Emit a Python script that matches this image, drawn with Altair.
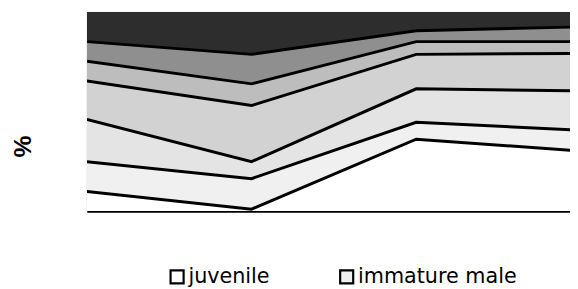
import altair as alt
import pandas as pd

# category positions (four sampling points)
periods = [0, 1, 2, 3]

# layer names, bottom to top (only the first two are readable in the legend)
groups = ["juvenile", "immature male", "class 3", "class 4", "class 5", "class 6", "class 7"]

# percentage share per layer at each point (bottom to top)
juvenile = [9.9, 1.0, 36.1, 30.2]
immature_male = [14.9, 15.3, 8.5, 10.4]
class3 = [21.2, 8.5, 16.8, 19.8]
class4 = [19.3, 28.2, 17.3, 18.8]
class5 = [9.9, 10.9, 6.4, 5.9]
class6 = [9.9, 14.8, 5.5, 7.4]
class7 = [14.9, 21.3, 9.4, 7.5]
series = [juvenile, immature_male, class3, class4, class5, class6, class7]

# grey tones standing in for the dot / hatch textures
fills = ["#ffffff", "#f0f0f0", "#e4e4e4", "#d2d2d2", "#bdbdbd", "#8f8f8f", "#2d2d2d"]

rows = []
for gi, (g, vals) in enumerate(zip(groups, series)):
    for p, v in zip(periods, vals):
        rows.append({"period": p, "group": g, "order": gi, "value": v})
df = pd.DataFrame(rows)
df = df.sort_values(["period", "order"])
df["top"] = df.groupby("period")["value"].cumsum()

xscale = alt.Scale(domain=[0, 2.934], nice=False, zero=False)
yscale = alt.Scale(domain=[0, 100], nice=False)

areas = alt.Chart(df).mark_area(opacity=1, clip=True).encode(
    x=alt.X("period:Q", scale=xscale,
            axis=alt.Axis(title=None, labels=False, ticks=False, grid=False,
                          domainColor="black", domainWidth=2.5)),
    y=alt.Y("value:Q", stack="zero", scale=yscale,
            axis=alt.Axis(title="%", labels=False, ticks=False, grid=False, domain=False,
                          titleAngle=270, titleX=-65, titleY=136,
                          titleAlign="center", titleBaseline="middle",
                          titleFont="Liberation Sans", titleFontSize=25,
                          titleFontWeight="bold", titleColor="black")),
    color=alt.Color("group:N", scale=alt.Scale(domain=groups, range=fills),
                    legend=alt.Legend(values=groups[:2], title=None, orient="none",
                                      legendX=81, legendY=258, direction="horizontal",
                                      symbolType="square", symbolSize=175,
                                      symbolStrokeColor="black", symbolStrokeWidth=2.2,
                                      symbolOpacity=1, labelFont="DejaVu Sans",
                                      labelFontSize=21, labelColor="black",
                                      labelOffset=1, labelLimit=400, columnPadding=66)),
    order=alt.Order("order:Q"),
)

lines = alt.Chart(df[df["order"] < 6]).mark_line(color="black", strokeWidth=3, clip=True).encode(
    x=alt.X("period:Q", scale=xscale),
    y=alt.Y("top:Q", scale=yscale),
    detail="group:N",
)

chart = alt.layer(areas, lines).properties(
    width=490, height=202,
    padding={"left": 80, "top": 2, "right": 0, "bottom": 77},
    autosize=alt.AutoSizeParams(type="none"),
    background="white",
).configure_view(stroke="#9a9a9a", strokeWidth=1)

chart.save("out.html", embed_options={"renderer": "svg", "actions": False})
